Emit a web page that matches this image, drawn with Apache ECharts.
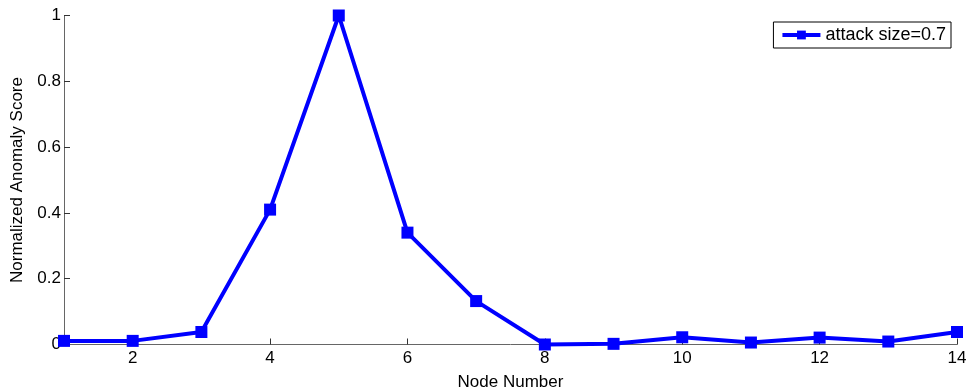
<!DOCTYPE html>
<html>
<head>
<meta charset="utf-8">
<script src="https://cdn.jsdelivr.net/npm/echarts@6/dist/echarts.min.js"></script>
<style>html,body{margin:0;padding:0;background:#fff}#c{width:971px;height:391px}</style>
</head>
<body>
<div id="c"></div>
<script>
const nodes = [1,2,3,4,5,6,7,8,9,10,11,12,13,14];
const scores = [0.011,0.011,0.038,0.41,1.0,0.34,0.132,0.0,0.002,0.022,0.006,0.021,0.009,0.038];
const xTicks = [2,4,6,8,10,12,14];
const yTicks = [0,0.2,0.4,0.6,0.8,1];
const seriesName = 'attack size=0.7';

const chart = echarts.init(document.getElementById('c'));
const font = 'Liberation Sans, Arial, sans-serif';
chart.setOption({
  animation: false,
  grid: {left: 64, right: 14, top: 15.5, bottom: 46.5, outerBoundsMode: 'none', containLabel: false},
  legend: {
    data: [seriesName], right: 20, top: 22, orient: 'vertical',
    borderColor: '#000', borderWidth: 1, padding: [4, 5, 4, 7],
    itemWidth: 38, itemHeight: 11, itemGap: 0,
    lineStyle: {width: 4},
    textStyle: {fontFamily: font, fontSize: 18, color: '#000'}
  },
  xAxis: {
    type: 'value', min: 1, max: 14,
    name: 'Node Number', nameLocation: 'middle', nameGap: 29,
    nameTextStyle: {fontFamily: font, fontSize: 17, color: '#000'},
    axisLine: {lineStyle: {color: '#666', width: 1}},
    axisTick: {inside: true, length: 6, customValues: xTicks, lineStyle: {color: '#333'}},
    axisLabel: {customValues: xTicks, fontFamily: font, fontSize: 17, color: '#000', margin: 5},
    splitLine: {show: false}
  },
  yAxis: {
    type: 'value', min: 0, max: 1, interval: 0.2,
    name: 'Normalized Anomaly Score', nameLocation: 'middle', nameGap: 38,
    nameTextStyle: {fontFamily: font, fontSize: 17, color: '#000'},
    axisLine: {show: true, lineStyle: {color: '#666', width: 1}},
    axisTick: {show: true, inside: true, length: 6, customValues: yTicks, lineStyle: {color: '#333'}},
    axisLabel: {customValues: yTicks, fontFamily: font, fontSize: 17, color: '#000', margin: 3,
      formatter: v => String(Math.round(v*10)/10)},
    splitLine: {show: false}
  },
  series: [{
    name: seriesName, type: 'line',
    data: nodes.map((n, i) => [n, scores[i]]),
    symbol: 'rect', symbolSize: 12,
    lineStyle: {color: '#0000ff', width: 4},
    itemStyle: {color: '#0000ff'},
    clip: false
  }]
});
</script>
</body>
</html>
